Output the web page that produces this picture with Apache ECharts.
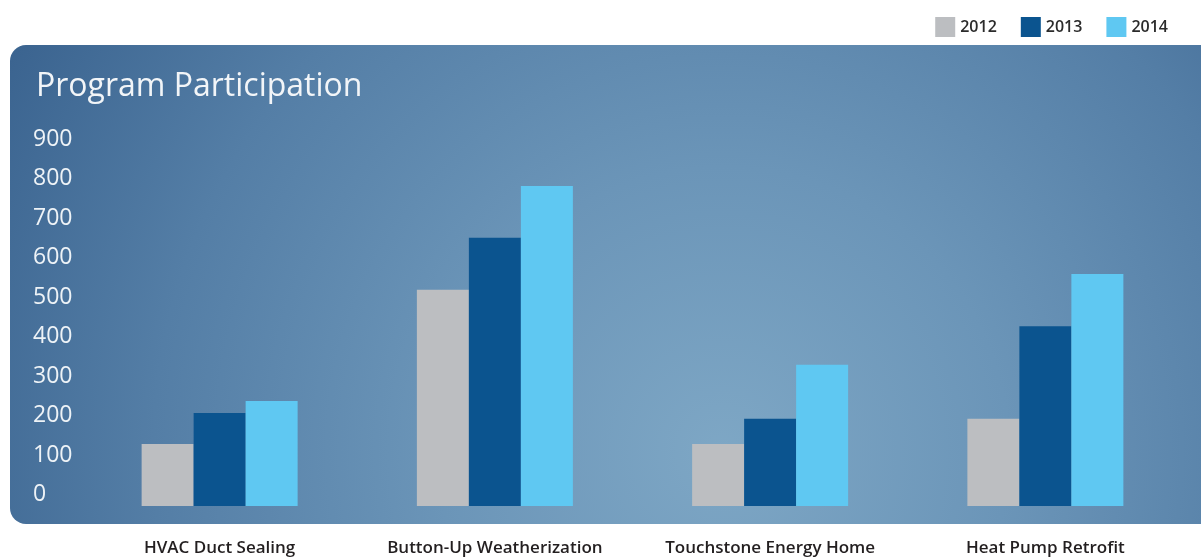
<!DOCTYPE html>
<html>
<head>
<meta charset="utf-8">
<title>Program Participation</title>
<script src="https://cdn.jsdelivr.net/npm/echarts@6/dist/echarts.min.js"></script>
<style>
  html, body { margin: 0; padding: 0; background: #ffffff; }
  #chart { width: 1201px; height: 558px; }
</style>
</head>
<body>
<div id="chart"></div>
<script>
// 类目 / 年份
const categories = ['HVAC Duct Sealing', 'Button-Up Weatherization', 'Touchstone Energy Home', 'Heat Pump Retrofit'];
const years = ['2012', '2013', '2014'];

// 各年份参与数
const values2012 = [157, 548, 157, 221];
const values2013 = [236, 680, 221, 456];
const values2014 = [266, 811, 358, 588];

// y轴刻度
const yTicks = [0, 100, 200, 300, 400, 500, 600, 700, 800, 900];

const colors = ['#bcbec1', '#0b548f', '#5fc8f2'];
const fontFamily = '"Open Sans", "Noto Sans", sans-serif';

const chart = echarts.init(document.getElementById('chart'));

const makeSeries = (name, data, color) => ({
  name: name,
  type: 'bar',
  data: data,
  barWidth: 52,
  barGap: '0%',
  itemStyle: { color: color },
  emphasis: { disabled: true }
});

const option = {
  animation: false,
  backgroundColor: '#ffffff',
  graphic: [
    {
      // 背景面板
      type: 'rect',
      z: -10,
      silent: true,
      shape: { x: 10, y: 45, width: 1230, height: 479, r: 16 },
      style: {
        fill: {
          type: 'radial',
          x: 0.58,
          y: 0.85,
          r: 1.7,
          colorStops: [
            { offset: 0, color: '#7ea7c5' },
            { offset: 0.35, color: '#6b95b8' },
            { offset: 0.7, color: '#547ea6' },
            { offset: 1, color: '#3b6490' }
          ]
        }
      }
    }
  ],
  title: {
    text: 'Program Participation',
    left: 31,
    top: 66,
    textStyle: {
      color: '#f2f5f8',
      fontFamily: fontFamily,
      fontSize: 32,
      fontWeight: 'normal'
    }
  },
  legend: {
    data: years,
    right: 28,
    top: 12,
    itemWidth: 20,
    itemHeight: 20,
    itemGap: 24,
    icon: 'rect',
    textStyle: {
      color: '#2b2b2b',
      fontFamily: fontFamily,
      fontSize: 16,
      fontWeight: 600
    }
  },
  grid: {
    left: 82,
    right: 18,
    top: 151,
    bottom: 52
  },
  xAxis: {
    type: 'category',
    data: categories,
    axisLine: { show: false },
    axisTick: { show: false },
    axisLabel: {
      margin: 34,
      color: '#231f20',
      fontFamily: fontFamily,
      fontSize: 17,
      fontWeight: 600,
      interval: 0
    }
  },
  yAxis: {
    type: 'value',
    min: yTicks[0],
    max: yTicks[yTicks.length - 1],
    interval: yTicks[1] - yTicks[0],
    splitLine: { show: false },
    axisLine: { show: false },
    axisTick: { show: false },
    axisLabel: {
      align: 'left',
      verticalAlign: 'bottom',
      margin: 49,
      color: '#eef3f7',
      fontFamily: fontFamily,
      fontSize: 23
    }
  },
  series: [
    makeSeries(years[0], values2012, colors[0]),
    makeSeries(years[1], values2013, colors[1]),
    makeSeries(years[2], values2014, colors[2])
  ]
};

chart.setOption(option);
</script>
</body>
</html>
